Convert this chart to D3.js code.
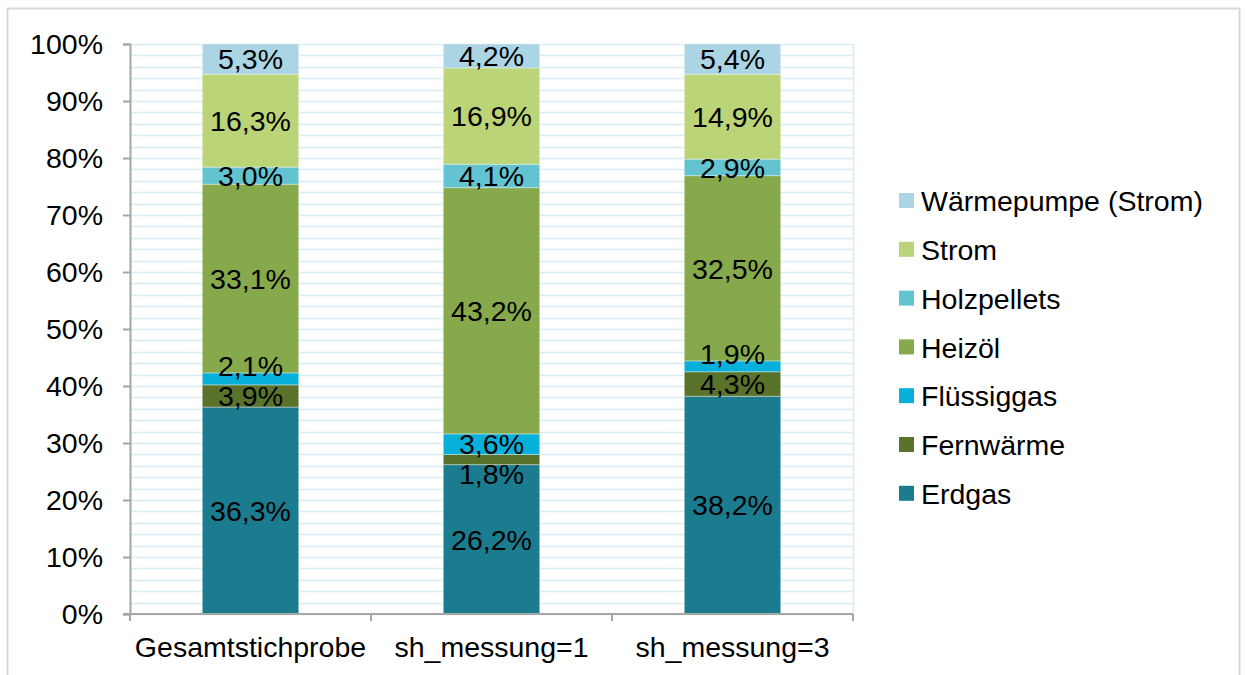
<!DOCTYPE html>
<html>
<head>
<meta charset="utf-8">
<script src="https://cdn.jsdelivr.net/npm/d3@7"></script>
<style>
  body { margin: 0; background: #fff; }
  svg { display: block; font-family: "Liberation Sans", Arial, sans-serif; }
</style>
</head>
<body>
<svg id="chart" width="1245" height="675"></svg>
<script>
// categories and series, bottom to top of the stack
const categories = ["Gesamtstichprobe", "sh_messung=1", "sh_messung=3"];
const seriesNames = ["Erdgas", "Fernwärme", "Flüssiggas", "Heizöl", "Holzpellets", "Strom", "Wärmepumpe (Strom)"];
const seriesColors = ["#1b7c8f", "#5a732b", "#07b0db", "#86a94b", "#63c3d0", "#bbd477", "#abd5e4"];

const erdgas      = [36.3, 26.2, 38.2];
const fernwaerme  = [3.9, 1.8, 4.3];
const fluessiggas = [2.1, 3.6, 1.9];
const heizoel     = [33.1, 43.2, 32.5];
const holzpellets = [3.0, 4.1, 2.9];
const strom       = [16.3, 16.9, 14.9];
const waermepumpe = [5.3, 4.2, 5.4];

const seriesValues = [erdgas, fernwaerme, fluessiggas, heizoel, holzpellets, strom, waermepumpe];

const yTickValues = [0, 10, 20, 30, 40, 50, 60, 70, 80, 90, 100];

const width = 1245, height = 675;
const margin = { top: 44, right: 392, bottom: 61, left: 130 };
const plotW = width - margin.left - margin.right;
const plotH = height - margin.top - margin.bottom;
const fontSize = 28.5;

const svg = d3.select("#chart");
const deFormat = d3.formatLocale({ decimal: ",", thousands: ".", grouping: [3], currency: ["", "€"] });
const pct1 = deFormat.format(".1f");

// outer frame
svg.append("rect")
  .attr("x", 7.5).attr("y", 8.5)
  .attr("width", 1232).attr("height", 700)
  .attr("fill", "#fff")
  .attr("stroke", "#d9d9d9")
  .attr("stroke-width", 2);

const g = svg.append("g").attr("transform", `translate(${margin.left},${margin.top})`);

const x = d3.scaleBand().domain(categories).range([0, plotW]).padding(0);
const y = d3.scaleLinear().domain([0, 100]).range([plotH, 0]);

// gridlines every 2%
g.append("g")
  .selectAll("line")
  .data(y.ticks(50))
  .join("line")
    .attr("x1", 0).attr("x2", plotW)
    .attr("y1", d => Math.round(y(d)) + 0.5)
    .attr("y2", d => Math.round(y(d)) + 0.5)
    .attr("stroke", "#d7ecf3")
    .attr("stroke-width", 1.5);

g.append("line")
  .attr("x1", plotW + 0.5).attr("x2", plotW + 0.5)
  .attr("y1", 0).attr("y2", plotH)
  .attr("stroke", "#d7ecf3")
  .attr("stroke-width", 1.5);

// stacked data
const table = categories.map((c, i) => {
  const row = { category: c };
  seriesNames.forEach((s, j) => { row[s] = seriesValues[j][i]; });
  return row;
});
const stacked = d3.stack().keys(seriesNames)(table);

const barW = x.bandwidth() * 0.4;
const barX = c => x(c) + (x.bandwidth() - barW) / 2;

g.append("g")
  .selectAll("g")
  .data(stacked)
  .join("g")
    .attr("fill", (d, i) => seriesColors[i])
  .selectAll("rect")
  .data(d => d.map(p => ({ p, key: d.key })))
  .join("rect")
    .attr("x", d => barX(d.p.data.category))
    .attr("width", barW)
    .attr("y", d => y(Math.min(d.p[1], 100)))
    .attr("height", d => y(d.p[0]) - y(Math.min(d.p[1], 100)))
    .attr("stroke", "rgba(255,255,255,0.35)")
    .attr("stroke-width", 1);

// data labels: centred in their segment, small neighbours pushed apart
const minGap = 30;
categories.forEach(c => {
  const labels = stacked.map(s => {
    const p = s.find(q => q.data.category === c);
    const top = Math.min(p[1], 100);
    return { value: p.data[s.key], size: top - p[0], cy: (y(p[0]) + y(top)) / 2 };
  });
  for (let i = 0; i < labels.length - 1; i++) {
    const lo = labels[i], hi = labels[i + 1];
    const gap = lo.cy - hi.cy;
    if (gap < minGap) {
      if (lo.size < hi.size) lo.cy = hi.cy + minGap;
      else hi.cy = lo.cy - minGap;
    }
  }
  g.append("g")
    .selectAll("text")
    .data(labels)
    .join("text")
      .attr("x", barX(c) + barW / 2)
      .attr("y", d => d.cy)
      .attr("dy", "0.36em")
      .attr("text-anchor", "middle")
      .attr("font-size", fontSize)
      .attr("fill", "#000")
      .text(d => pct1(d.value) + "%");
});

// y axis
const yAxis = g.append("g")
  .call(d3.axisLeft(y).tickValues(yTickValues).tickSize(7).tickPadding(20).tickFormat(d => d + "%"));
yAxis.select(".domain").attr("stroke", "#a6a6a6").attr("stroke-width", 2);
yAxis.selectAll(".tick line").attr("stroke", "#a6a6a6").attr("stroke-width", 2);
yAxis.selectAll(".tick text").attr("font-size", fontSize).attr("fill", "#000").attr("font-family", "Liberation Sans, Arial, sans-serif");

// x axis
const xAxisG = g.append("g").attr("transform", `translate(0,${plotH})`);
xAxisG.append("line")
  .attr("x1", -7).attr("x2", plotW)
  .attr("y1", 0).attr("y2", 0)
  .attr("stroke", "#a6a6a6").attr("stroke-width", 2);
const bounds = categories.map(c => x(c)).concat([x(categories[categories.length - 1]) + x.bandwidth()]);
xAxisG.selectAll("line.tick")
  .data(bounds)
  .join("line")
    .attr("class", "tick")
    .attr("x1", d => d).attr("x2", d => d)
    .attr("y1", 0).attr("y2", 7)
    .attr("stroke", "#a6a6a6").attr("stroke-width", 2);
xAxisG.selectAll("text")
  .data(categories)
  .join("text")
    .attr("x", d => x(d) + x.bandwidth() / 2)
    .attr("y", 43)
    .attr("text-anchor", "middle")
    .attr("font-size", fontSize)
    .attr("fill", "#000")
    .text(d => d);

// legend, top entry is the top of the stack
const legendItems = seriesNames.map((s, i) => ({ name: s, color: seriesColors[i] })).reverse();
const legend = svg.append("g").attr("transform", "translate(899,201)");
const li = legend.selectAll("g")
  .data(legendItems)
  .join("g")
    .attr("transform", (d, i) => `translate(0,${i * 48.8})`);
li.append("rect")
  .attr("x", 0).attr("y", -8)
  .attr("width", 15).attr("height", 15)
  .attr("fill", d => d.color);
li.append("text")
  .attr("x", 22).attr("y", 0)
  .attr("dy", "0.36em")
  .attr("font-size", fontSize)
  .attr("fill", "#000")
  .text(d => d.name);
</script>
</body>
</html>
